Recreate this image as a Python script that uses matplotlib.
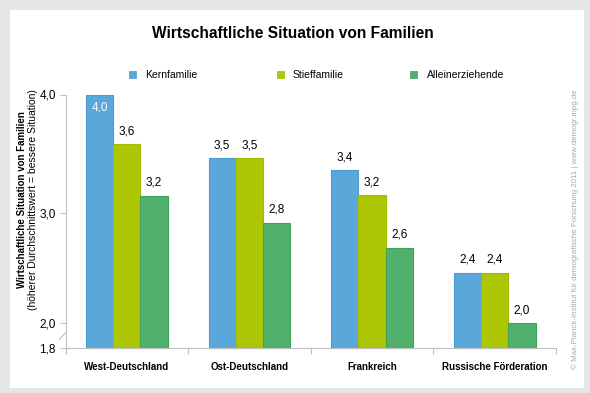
import numpy as np
import matplotlib
matplotlib.use("Agg")
import matplotlib.pyplot as plt
from matplotlib.patches import Rectangle
from matplotlib.lines import Line2D

plt.rcParams['font.family'] = ['Liberation Sans', 'DejaVu Sans']

categories = ["West-Deutschland", "Ost-Deutschland", "Frankreich", "Russische Förderation"]
series_names = ["Kernfamilie", "Stieffamilie", "Alleinerziehende"]
kern = [4.0, 3.46, 3.36, 2.457]
stief = [3.58, 3.46, 3.15, 2.457]
allein = [3.145, 2.91, 2.685, 2.0]
kern_labels = ["4,0", "3,5", "3,4", "2,4"]
stief_labels = ["3,6", "3,5", "3,2", "2,4"]
allein_labels = ["3,2", "2,8", "2,6", "2,0"]
yticks = [1.8, 2.0, 3.0, 4.0]
ytick_labels = ["1,8", "2,0", "3,0", "4,0"]

colors = ["#5AA7DA", "#ADC606", "#52B06D"]
edges = ["#4A9BD4", "#A2BB00", "#3FA35B"]

# piecewise axis as drawn in the original (broken axis)
_d = np.array([1.8, 2.0, 3.0, 4.0])
_p = np.array([0.0, 25.0, 135.0, 253.5])

def fwd(v):
    v = np.asarray(v, dtype=float)
    out = np.interp(v, _d, _p)
    lo = v < _d[0]
    hi = v > _d[-1]
    out = np.where(lo, _p[0] + (v - _d[0]) * (_p[1] - _p[0]) / (_d[1] - _d[0]), out)
    out = np.where(hi, _p[-1] + (v - _d[-1]) * (_p[-1] - _p[-2]) / (_d[-1] - _d[-2]), out)
    return out

def inv(p):
    p = np.asarray(p, dtype=float)
    out = np.interp(p, _p, _d)
    lo = p < _p[0]
    hi = p > _p[-1]
    out = np.where(lo, _d[0] + (p - _p[0]) * (_d[1] - _d[0]) / (_p[1] - _p[0]), out)
    out = np.where(hi, _d[-1] + (p - _p[-1]) * (_d[-1] - _d[-2]) / (_p[-1] - _p[-2]), out)
    return out

W, H = 590, 393
fig = plt.figure(figsize=(W / 100, H / 100), dpi=100)
fig.patch.set_facecolor("#E6E6E6")
bg = Rectangle((9.5 / W, 1 - 388 / H), (584 - 9.5) / W, (388 - 10) / H,
               transform=fig.transFigure, facecolor="white",
               edgecolor="none", zorder=-10)
fig.patches.append(bg)

ax = fig.add_axes([65.5 / W, 1 - 348 / H, (556 - 65.5) / W, (348 - 94.5) / H])
ax.set_zorder(5)
ax.set_facecolor("none")
ax.set_yscale('function', functions=(fwd, inv))
ax.set_ylim(1.8, 4.0)
ax.set_xlim(-0.5, len(categories) - 0.5)

x = np.arange(len(categories))
bw = 2 / 9
all_vals = [kern, stief, allein]
all_labels = [kern_labels, stief_labels, allein_labels]
for k in range(3):
    xs = x + (k - 1) * bw
    ax.bar(xs, np.array(all_vals[k]) - 1.8, bottom=1.8, width=bw,
           color=colors[k], edgecolor=edges[k], linewidth=0.8,
           label=series_names[k], clip_on=False, zorder=2)
    for i, (xi, v) in enumerate(zip(xs, all_vals[k])):
        lab = all_labels[k][i]
        if k == 0 and i == 0:
            ax.annotate(lab, (xi, v), xytext=(0, -5), textcoords="offset points",
                        ha="center", va="top", fontsize=8.5, color="white")
        else:
            ax.annotate(lab, (xi, v), xytext=(0, 5), textcoords="offset points",
                        ha="center", va="bottom", fontsize=8.5, color="black")

for s in ["top", "right"]:
    ax.spines[s].set_visible(False)
for s in ["left", "bottom"]:
    ax.spines[s].set_color("#BFBFBF")
    ax.spines[s].set_linewidth(0.8)

ax.set_yticks(yticks)
ax.set_yticklabels(ytick_labels, fontsize=8.5)
ax.tick_params(axis="y", length=4, color="#BFBFBF", width=0.8, pad=3)

ax.set_xticks(x)
ax.set_xticklabels(categories, fontsize=7, fontweight="bold")
ax.tick_params(axis="x", length=0, pad=10)
ax.set_xticks(np.arange(len(categories) + 1) - 0.5, minor=True)
ax.tick_params(axis="x", which="minor", length=4, color="#BFBFBF", width=0.8)

# axis break mark
ax.add_line(Line2D([-0.012, 0.0], [0.035, 0.06], transform=ax.transAxes,
                   color="#BFBFBF", lw=0.8, clip_on=False))

fig.text(293 / W, 1 - 33 / H, "Wirtschaftliche Situation von Familien",
         ha="center", va="center", fontsize=11.2, fontweight="bold")

# legend
leg_sq = [132, 280, 413]
leg_tx = [145.6, 293, 426.6]
for k in range(3):
    fig.patches.append(Rectangle(((leg_sq[k] - 3.5) / W, 1 - (74.5 + 3.5) / H), 7 / W, 7 / H,
                                 transform=fig.transFigure, facecolor=colors[k],
                                 edgecolor=edges[k], linewidth=0.5, zorder=3))
    fig.text(leg_tx[k] / W, 1 - 74.5 / H, series_names[k], ha="left", va="center",
             fontsize=7.5)

fig.text(22 / W, 1 - 200 / H, "Wirtschaftliche Situation von Familien",
         rotation=90, ha="center", va="center", fontsize=7, fontweight="bold")
fig.text(33 / W, 1 - 200 / H, "(höherer Durchschnittswert = bessere Situation)",
         rotation=90, ha="center", va="center", fontsize=7.5)

fig.text(575 / W, 1 - 229 / H,
         "© Max-Planck-Institut für demografische Forschung 2011 | www.demogr.mpg.de",
         rotation=90, ha="center", va="center", fontsize=5.7, color="#A8A8A8")

fig.savefig("out.png", dpi=100, facecolor=fig.get_facecolor())
